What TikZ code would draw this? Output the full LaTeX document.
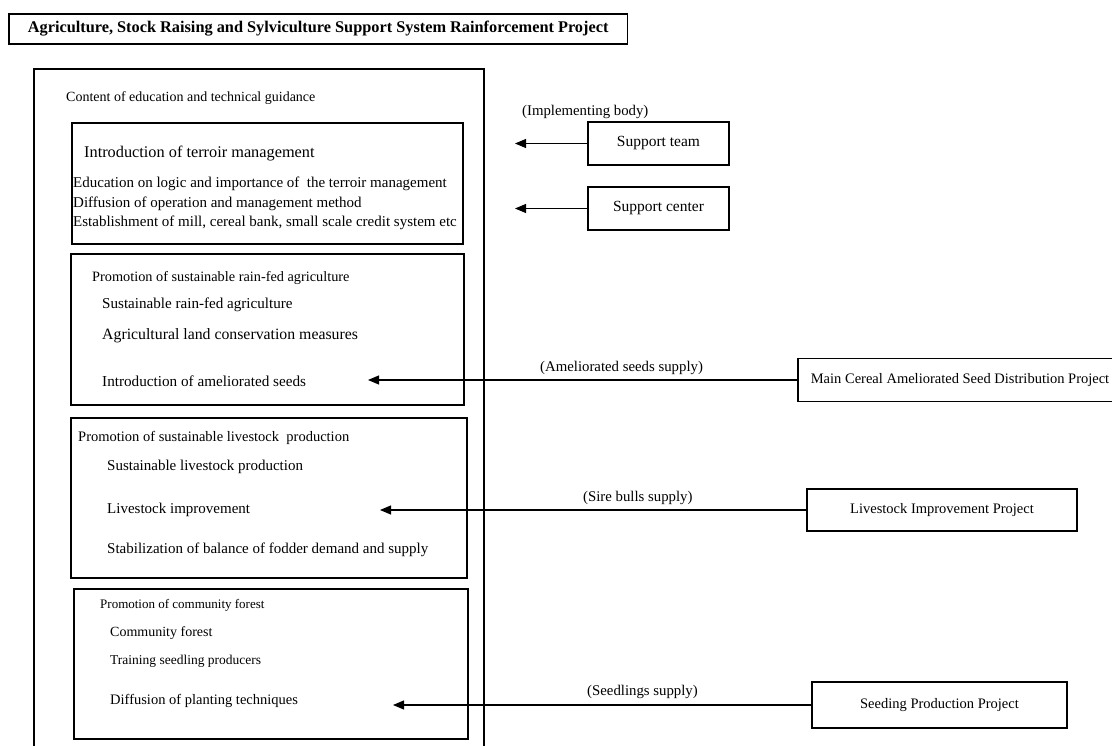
\documentclass[tikz,border=0pt]{standalone}
\usepackage{fontspec}
\setmainfont{Liberation Serif}
\usetikzlibrary{arrows.meta}
\begin{document}
\begin{tikzpicture}[x=1pt,y=-1pt,
  frame/.style={draw, line width=1.7pt, inner sep=0pt},
  outerframe/.style={draw, line width=2.2pt},
  sidebox/.style={draw, line width=1.7pt, inner sep=0pt, font=\fontsize{14.5}{16}\selectfont},
  txt/.style={anchor=west, inner sep=0pt, font=\fontsize{#1}{#1}\selectfont},
  txt/.default=15,
  lbl/.style={anchor=west, inner sep=0pt, font=\fontsize{14.8}{15}\selectfont},
  feed/.style={line width=1.1pt, -{Triangle[length=11pt,width=9pt]}}
]
\useasboundingbox (0,0) rectangle (1112,746);
\fill[white] (0,0) rectangle (1112,746);

% project title
\node[frame, anchor=west, inner xsep=19pt, minimum height=30pt,
      font=\fontsize{16.3}{19}\selectfont\bfseries] (title) at (8,29)
  {Agriculture, Stock Raising and Sylviculture Support System Rainforcement Project};

% outer frame (open past the bottom edge)
\draw[outerframe] (34,780) -- (34,69) -- (484,69) -- (484,780);
\node[txt=14] (content) at (66,98) {Content of education and technical guidance};

% terroir management block
\node[frame, anchor=north west, minimum width=391pt, minimum height=121pt] (b1) at (71,122) {};
\node[txt=16.3] (b1h) at (84,154) {Introduction of terroir management};
\node[txt] (b1a) at (73,184) {Education on logic and importance of \ the terroir management};
\node[txt] (b1b) at (73,204) {Diffusion of operation and management method};
\node[txt] (b1c) at (73,223) {Establishment of mill, cereal bank, small scale credit system etc};

% rain-fed agriculture block
\node[frame, anchor=north west, minimum width=393pt, minimum height=151pt] (b2) at (70,253) {};
\node[txt=14.3] (b2h) at (92,278) {Promotion of sustainable rain-fed agriculture};
\node[txt=15.1] (b2a) at (102,305) {Sustainable rain-fed agriculture};
\node[txt=15.8] (b2b) at (102,336) {Agricultural land conservation measures};
\node[txt=15.2] (b2c) at (102,381) {Introduction of ameliorated seeds};

% livestock block
\node[frame, anchor=north west, minimum width=396pt, minimum height=160pt] (b3) at (70,417) {};
\node[txt=14.5] (b3h) at (78,438) {Promotion of sustainable livestock \ production};
\node[txt] (b3a) at (107,467) {Sustainable livestock production};
\node[txt] (b3b) at (107,510) {Livestock improvement};
\node[txt] (b3c) at (107,550) {Stabilization of balance of fodder demand and supply};

% community forest block
\node[frame, anchor=north west, minimum width=394pt, minimum height=150pt] (b4) at (73,588) {};
\node[txt=13] (b4h) at (100,605) {Promotion of community forest};
\node[txt=14] (b4a) at (110,633) {Community forest};
\node[txt=13.5] (b4b) at (110,661) {Training seedling producers};
\node[txt=14.5] (b4c) at (110,701) {Diffusion of planting techniques};

% implementing bodies
\node[lbl] (impl) at (522,112) {(Implementing body)};
\node[sidebox, minimum width=141pt, minimum height=43pt, font=\fontsize{15.5}{17}\selectfont] (team) at (658.5,143.5) {Support team};
\node[sidebox, minimum width=141pt, minimum height=43pt, font=\fontsize{15.5}{17}\selectfont] (center) at (658.5,208.5) {Support center};
\coordinate (t1) at (515,143.5);
\coordinate (t2) at (515,208.5);
\draw[feed] (team.west) -- (t1);
\draw[feed] (center.west) -- (t2);

% supplying projects
\node[sidebox, anchor=west, minimum height=43pt, inner xsep=13pt] (cereal) at (797,380)
  {Main Cereal Ameliorated Seed Distribution Project};
\node[sidebox, minimum width=270pt, minimum height=42pt] (stock) at (942,510) {Livestock Improvement Project};
\node[sidebox, minimum width=255pt, minimum height=46pt] (seedp) at (939.5,705) {Seeding Production Project};

\coordinate (t3) at (368,380);
\coordinate (t4) at (380,510);
\coordinate (t5) at (393,705);
\draw[feed] (cereal.west) -- (t3);
\draw[feed] (stock.west) -- (t4);
\draw[feed] (seedp.west) -- (t5);

\node[lbl] (l3) at (540,368) {(Ameliorated seeds supply)};
\node[lbl] (l4) at (583,498) {(Sire bulls supply)};
\node[lbl] (l5) at (587,692) {(Seedlings supply)};
\end{tikzpicture}
\end{document}
